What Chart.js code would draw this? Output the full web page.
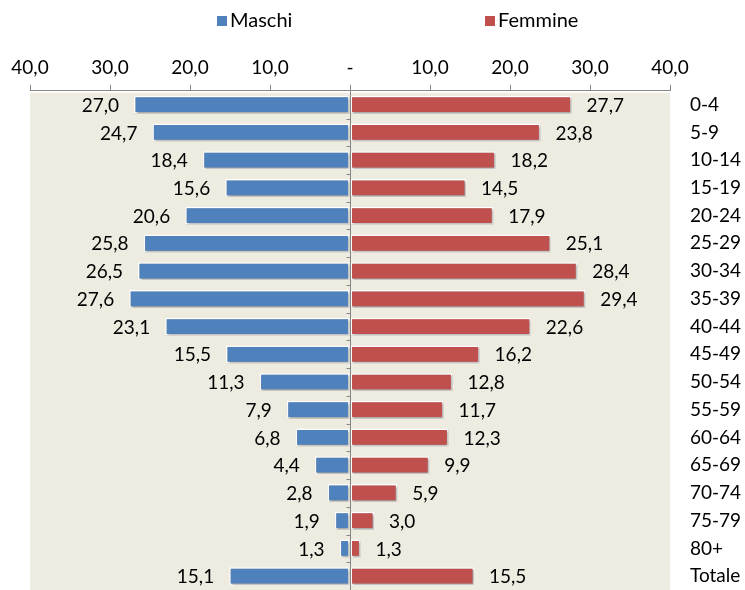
<!DOCTYPE html>
<html>
<head>
<meta charset="utf-8">
<script src="https://cdn.jsdelivr.net/npm/chart.js@4/dist/chart.umd.min.js"></script>
<style>
  body { margin: 0; background: #fff; }
  #wrap { width: 745px; height: 590px; }
</style>
</head>
<body>
<div id="wrap"><canvas id="chart-area" width="745" height="590"></canvas></div>
<script>
// eta' (classi quinquennali)
let categories = ['0-4', '5-9', '10-14', '15-19', '20-24', '25-29', '30-34', '35-39', '40-44',
  '45-49', '50-54', '55-59', '60-64', '65-69', '70-74', '75-79', '80+', 'Totale'];
let maschi = [27.0, 24.7, 18.4, 15.6, 20.6, 25.8, 26.5, 27.6, 23.1, 15.5, 11.3, 7.9, 6.8, 4.4, 2.8, 1.9, 1.3, 15.1];
let femmine = [27.7, 23.8, 18.2, 14.5, 17.9, 25.1, 28.4, 29.4, 22.6, 16.2, 12.8, 11.7, 12.3, 9.9, 5.9, 3.0, 1.3, 15.5];
let tickValues = [-40, -30, -20, -10, 0, 10, 20, 30, 40];

let fontFamily = 'Lato, "Open Sans", sans-serif';
let blue = '#4F81BD';
let red = '#C0504D';

function fmt(v) {
  if (v === 0) return '-';
  return Math.abs(v).toFixed(1).replace('.', ',');
}

// sfondo area del grafico + asse verticale con tacche
const plotBg = {
  id: 'plotBg',
  beforeDraw(chart) {
    const a = chart.chartArea, c = chart.ctx;
    c.save();
    c.fillStyle = '#EEECE1';
    c.fillRect(a.left, a.top + 2, a.right - a.left, a.bottom - a.top);
    c.restore();
  },
  beforeDatasetsDraw(chart) {
    const c = chart.ctx;
    c.save();
    c.shadowColor = 'rgba(0,0,0,0.35)';
    c.shadowBlur = 2;
    c.shadowOffsetX = 1;
    c.shadowOffsetY = 1.5;
  },
  afterDatasetsDraw(chart) {
    chart.ctx.restore();
    const c = chart.ctx, x = chart.scales.x, y = chart.scales.y;
    const x0 = Math.round(x.getPixelForValue(0)) + 0.5;
    c.save();
    c.strokeStyle = '#868686';
    c.lineWidth = 1;
    c.beginPath();
    c.moveTo(x0, chart.chartArea.top);
    c.lineTo(x0, chart.chartArea.bottom);
    const step = y.getPixelForValue(1) - y.getPixelForValue(0);
    for (let i = 0; i < categories.length; i++) {
      const yy = Math.round(y.getPixelForValue(i) + step / 2) + 0.5;
      c.moveTo(x0 - 4, yy);
      c.lineTo(x0, yy);
    }
    c.stroke();
    c.restore();
  }
};

// etichette valori ai lati delle barre
const valueLabels = {
  id: 'valueLabels',
  afterDraw(chart) {
    const c = chart.ctx;
    c.save();
    c.font = '19px ' + fontFamily;
    c.fillStyle = '#000';
    c.textBaseline = 'middle';
    chart.data.datasets.forEach((ds, di) => {
      const meta = chart.getDatasetMeta(di);
      meta.data.forEach((bar, i) => {
        const v = ds.data[i];
        if (v < 0) {
          c.textAlign = 'right';
          c.fillText(fmt(v), bar.x - 15, bar.y + 1);
        } else {
          c.textAlign = 'left';
          c.fillText(fmt(v), bar.x + 15, bar.y + 1);
        }
      });
    });
    c.restore();
  }
};

// legenda in alto
const topLegend = {
  id: 'topLegend',
  afterDraw(chart) {
    const c = chart.ctx;
    const xs = [217, 485];
    c.save();
    c.font = '20px ' + fontFamily;
    c.textBaseline = 'middle';
    c.textAlign = 'left';
    chart.data.datasets.forEach((ds, i) => {
      c.fillStyle = ds.backgroundColor;
      c.fillRect(xs[i], 16, 10, 10);
      c.fillStyle = '#000';
      c.fillText(ds.label, xs[i] + 13, 21);
    });
    c.restore();
  }
};

const ctx = document.getElementById('chart-area').getContext('2d');
const chart = new Chart(ctx, {
  type: 'bar',
  data: {
    labels: categories,
    datasets: [{
      label: 'Maschi',
      data: maschi.map(v => -v),
      backgroundColor: blue,
      borderColor: '#fff',
      borderWidth: 1.5,
      borderSkipped: false,
      barPercentage: 0.64,
      categoryPercentage: 1
    }, {
      label: 'Femmine',
      data: femmine,
      backgroundColor: red,
      borderColor: '#fff',
      borderWidth: 1.5,
      borderSkipped: false,
      barPercentage: 0.64,
      categoryPercentage: 1
    }]
  },
  options: {
    indexAxis: 'y',
    responsive: false,
    animation: false,
    layout: { padding: { top: 50, left: 30, right: 2, bottom: -1 } },
    plugins: {
      legend: { display: false },
      tooltip: { enabled: false }
    },
    scales: {
      x: {
        position: 'top',
        stacked: true,
        min: -40,
        max: 40,
        afterBuildTicks(axis) { axis.ticks = tickValues.map(v => ({ value: v })); },
        ticks: {
          callback: v => fmt(v),
          color: '#000',
          padding: 6,
          maxRotation: 0,
          font: { family: fontFamily, size: 19 }
        },
        grid: {
          drawOnChartArea: false,
          tickLength: 6,
          tickColor: '#868686'
        },
        border: { color: '#868686', width: 1 }
      },
      y: {
        position: 'right',
        stacked: true,
        afterFit(axis) {
          axis.width = 73;
          axis.paddingTop = 0;
          axis.paddingBottom = 0;
        },
        grid: { display: false, drawTicks: false },
        border: { display: false },
        ticks: {
          color: '#000',
          padding: 20,
          font: { family: fontFamily, size: 19 }
        }
      }
    }
  },
  plugins: [plotBg, valueLabels, topLegend]
});
</script>
</body>
</html>
